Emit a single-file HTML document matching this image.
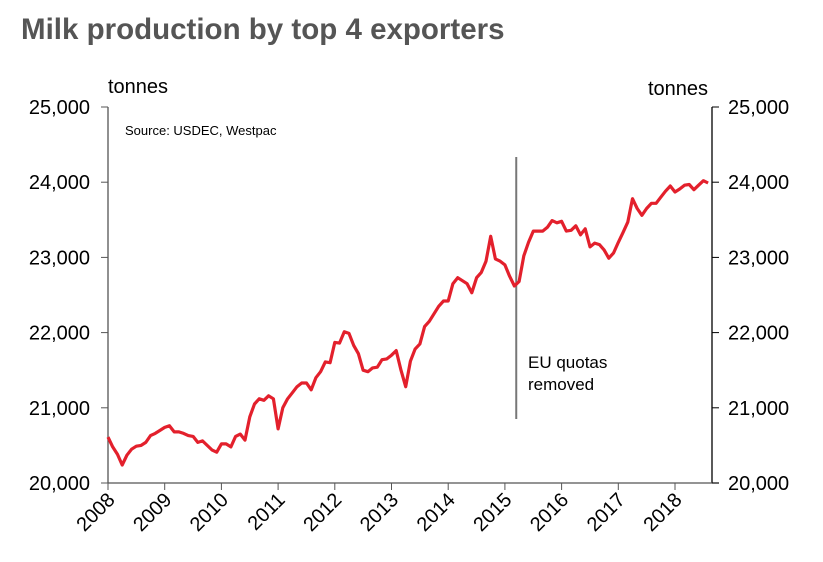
<!DOCTYPE html>
<html><head><meta charset="utf-8"><style>
body{margin:0;background:#fff;}
svg{display:block;font-family:"Liberation Sans",sans-serif;}
</style></head><body>
<svg id="chart" width="823" height="562">
<text x="21" y="39" font-size="29.5" font-weight="bold" fill="#555">Milk production by top 4 exporters</text>
<text x="108" y="93" font-size="20" fill="#000">tonnes</text>
<text x="648" y="95" font-size="20" fill="#000">tonnes</text>
<text x="125" y="135" font-size="13" fill="#000">Source: USDEC, Westpac</text>
<g id="axes"></g>
<g id="plot"></g>
</svg>
<script>
const years=[2008,2009,2010,2011,2012,2013,2014,2015,2016,2017,2018];
const yTicks=[20000,21000,22000,23000,24000,25000];
const startYear=2008;
const milk=[
20610,20480,20380,20240,20370,20450,20490,20500,20540,20630,20660,20700,
20740,20760,20680,20680,20660,20630,20620,20540,20560,20500,20440,20410,
20520,20520,20480,20620,20650,20570,20880,21050,21120,21100,21160,21120,
20720,21000,21120,21200,21280,21330,21330,21240,21400,21480,21610,21600,
21870,21860,22010,21990,21830,21720,21500,21480,21530,21540,21640,21650,
21700,21760,21500,21280,21620,21780,21850,22080,22150,22250,22350,22420,
22420,22650,22730,22690,22650,22530,22730,22800,22950,23280,22980,22950,
22900,22750,22620,22680,23020,23200,23350,23350,23350,23400,23490,23460,
23480,23350,23360,23420,23300,23380,23140,23190,23170,23100,22990,23060,
23200,23330,23470,23780,23650,23560,23650,23720,23720,23800,23880,23950,
23870,23910,23960,23970,23900,23960,24020,23990];
const eventYear=2015.2;
const ns="http://www.w3.org/2000/svg";
const X=t=>108+(t-2008)*56.7;
const Y=v=>483-(v-20000)*0.0752;
const axes=document.getElementById('axes'),plot=document.getElementById('plot');
function mk(tag,attrs,parent,txt){const e=document.createElementNS(ns,tag);for(const k in attrs)e.setAttribute(k,attrs[k]);if(txt!==undefined)e.textContent=txt;parent.appendChild(e);return e;}
let e;
e=mk('line',{x1:108,y1:Y(25000),x2:108,y2:483,stroke:'#555','stroke-width':1.3},axes);


e=mk('line',{x1:712,y1:Y(25000),x2:712,y2:483,stroke:'#000','stroke-width':1.3},axes);


e=mk('line',{x1:108,y1:483,x2:719,y2:483,stroke:'#555','stroke-width':1.3},axes);


yTicks.forEach(v=>{
 const y=Y(v);
 mk('line',{x1:101,y1:y,x2:108,y2:y,stroke:'#555'},axes);
 mk('line',{x1:712,y1:y,x2:719,y2:y,stroke:'#000'},axes);
 const lab=v.toLocaleString('en-US');
 e=mk('text',{x:90,y:y+7,'font-size':20,'text-anchor':'end'},axes,lab);
 
 
 e=mk('text',{x:728,y:y+7,'font-size':20},axes,lab);
 
 
});
years.forEach(yr=>{
 const x=X(yr);
 mk('line',{x1:x,y1:483,x2:x,y2:490,stroke:'#555'},axes);
 e=mk('text',{x:x+8,y:501,'font-size':20,'text-anchor':'end',transform:`rotate(-45 ${x+8} 501)`},axes,String(yr));
 
 
});
e=mk('line',{x1:X(eventYear),y1:157,x2:X(eventYear),y2:419,stroke:'#777','stroke-width':2},plot);


e=mk('text',{x:528,y:368,'font-size':17},plot,'EU quotas');


mk('text',{x:528,y:390,'font-size':17},plot,'removed');
const d=milk.map((v,i)=>(i?'L':'M')+X(startYear+i/12).toFixed(1)+','+Y(v).toFixed(1)).join(' ');
e=mk('path',{d:d,fill:'none',stroke:'#e3202c','stroke-width':3.2,'stroke-linejoin':'round'},plot);


</script>
</body></html>
